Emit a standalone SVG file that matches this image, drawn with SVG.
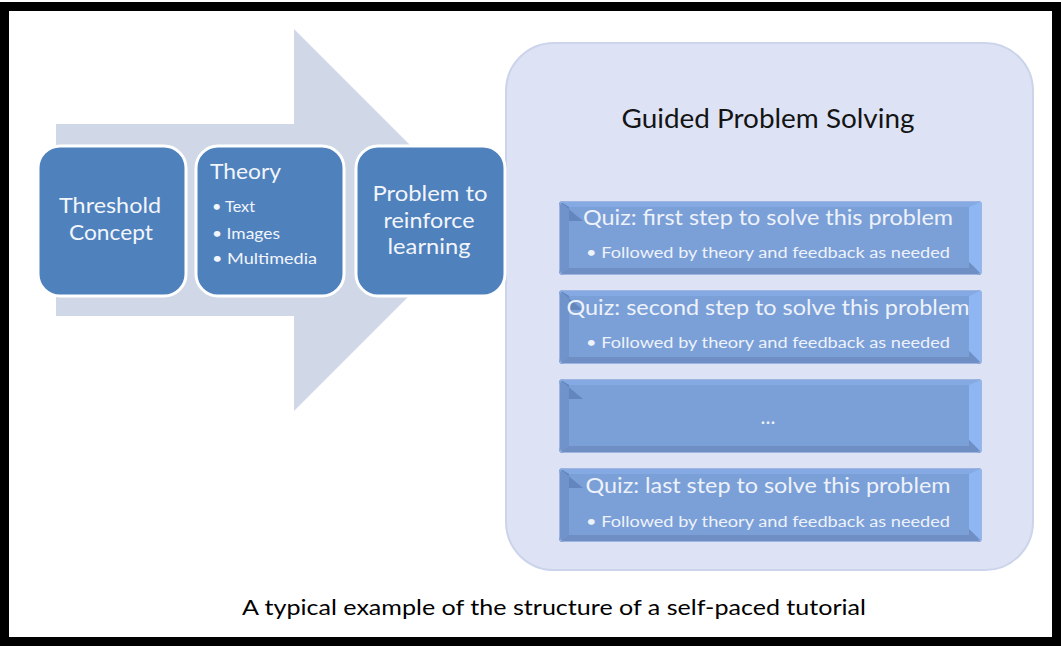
<svg xmlns="http://www.w3.org/2000/svg" width="1061" height="646" viewBox="0 0 1061 646">
<style>
.t{font-family:Lato,"Open Sans","Liberation Sans",sans-serif}
.box{fill:#4F81BD;stroke:#FFFFFF;stroke-width:3}
.bw{fill:#F2F5FB}
.qt{fill:#EDF2FB;font-size:21px}
.qb{fill:#EDF2FB;font-size:15.5px}
.face{fill:#7B9FD7}
.bt{fill:#85AAE3}
.bl{fill:#7093CB}
.bk{fill:#6486BE}
.br{fill:#8DB6F2}
.bb{fill:#6E8EC4}
</style>
<defs>
<clipPath id="qc"><rect x="0" y="0" width="423" height="74" rx="4"/></clipPath>
<g id="bevel">
<g clip-path="url(#qc)">
<rect class="face" x="0" y="0" width="423" height="74"/>
<polygon class="bt" points="0,0 423,0 410,6 10,6"/>
<polygon class="bl" points="0,0 10,6 10,67 0,74"/>
<polygon class="bk" points="0,0 24,20 10,20 10,6"/>
<polygon class="br" points="423,0 410,6 410,61 423,74"/>
<polygon class="bb" points="0,74 10,67 410,67 423,74"/>
<polygon class="bb" points="410,61 423,74 410,67"/>
</g>
<rect x="0.5" y="0.5" width="422" height="73" rx="4" fill="none" stroke="#9DB5E0" stroke-width="1"/>
</g>
</defs>
<rect x="0" y="0" width="1061" height="646" fill="#FFFFFF"/>
<rect x="4.5" y="6.5" width="1052" height="635" fill="#FFFFFF" stroke="#000000" stroke-width="9"/>

<g id="big-arrow">
<polygon points="56,124 294,124 294,29 485,220 294,411 294,316 56,316" fill="#D0D8E7"/>
</g>

<g id="panel-guided">
<rect x="506" y="43" width="527" height="527" rx="48" fill="#DDE3F5" stroke="#CBD4EB" stroke-width="2"/>
<text class="t" x="768" y="128" font-size="26.5" fill="#141414" text-anchor="middle" textLength="293" lengthAdjust="spacingAndGlyphs">Guided Problem Solving</text>
</g>

<g id="connectors"></g>

<g id="node-threshold">
<rect class="box" x="38" y="146" width="148" height="150" rx="22"/>
<text class="t bw" x="110" y="213" font-size="22" text-anchor="middle" textLength="102" lengthAdjust="spacingAndGlyphs">Threshold</text>
<text class="t bw" x="111" y="240" font-size="22" text-anchor="middle" textLength="84" lengthAdjust="spacingAndGlyphs">Concept</text>
</g>

<g id="node-theory">
<rect class="box" x="196" y="146" width="148" height="150" rx="22"/>
<text class="t bw" x="210" y="179" font-size="22" textLength="71" lengthAdjust="spacingAndGlyphs">Theory</text>
<text class="t bw" x="212" y="212" font-size="16" textLength="43" lengthAdjust="spacingAndGlyphs">• Text</text>
<text class="t bw" x="212" y="239" font-size="16" textLength="68" lengthAdjust="spacingAndGlyphs">• Images</text>
<text class="t bw" x="212" y="264" font-size="16" textLength="105" lengthAdjust="spacingAndGlyphs">• Multimedia</text>
</g>

<g id="node-problem">
<rect class="box" x="356" y="146" width="149" height="150" rx="22"/>
<text class="t bw" x="430" y="201" font-size="22" text-anchor="middle" textLength="115" lengthAdjust="spacingAndGlyphs">Problem to</text>
<text class="t bw" x="429" y="228" font-size="22" text-anchor="middle" textLength="91" lengthAdjust="spacingAndGlyphs">reinforce</text>
<text class="t bw" x="429" y="254" font-size="22" text-anchor="middle" textLength="83" lengthAdjust="spacingAndGlyphs">learning</text>
</g>

<g id="quiz-first">
<use href="#bevel" x="559" y="201"/>
<text class="t qt" x="768" y="225" text-anchor="middle" textLength="370" lengthAdjust="spacingAndGlyphs">Quiz: first step to solve this problem</text>
<text class="t qb" x="768" y="258" text-anchor="middle" textLength="364" lengthAdjust="spacingAndGlyphs">• Followed by theory and feedback as needed</text>
</g>

<g id="quiz-second">
<use href="#bevel" x="559" y="290"/>
<text class="t qt" x="768" y="315" text-anchor="middle" textLength="403" lengthAdjust="spacingAndGlyphs">Quiz: second step to solve this problem</text>
<text class="t qb" x="768" y="348" text-anchor="middle" textLength="364" lengthAdjust="spacingAndGlyphs">• Followed by theory and feedback as needed</text>
</g>

<g id="quiz-ellipsis">
<use href="#bevel" x="559" y="379"/>
<text class="t qt" x="768" y="424" text-anchor="middle" font-size="18">...</text>
</g>

<g id="quiz-last">
<use href="#bevel" x="559" y="468"/>
<text class="t qt" x="768" y="493" text-anchor="middle" textLength="365" lengthAdjust="spacingAndGlyphs">Quiz: last step to solve this problem</text>
<text class="t qb" x="768" y="527" text-anchor="middle" textLength="364" lengthAdjust="spacingAndGlyphs">• Followed by theory and feedback as needed</text>
</g>

<g id="caption">
<text class="t" x="554" y="615" font-size="22" fill="#000000" text-anchor="middle" textLength="624" lengthAdjust="spacingAndGlyphs">A typical example of the structure of a self-paced tutorial</text>
</g>
</svg>
